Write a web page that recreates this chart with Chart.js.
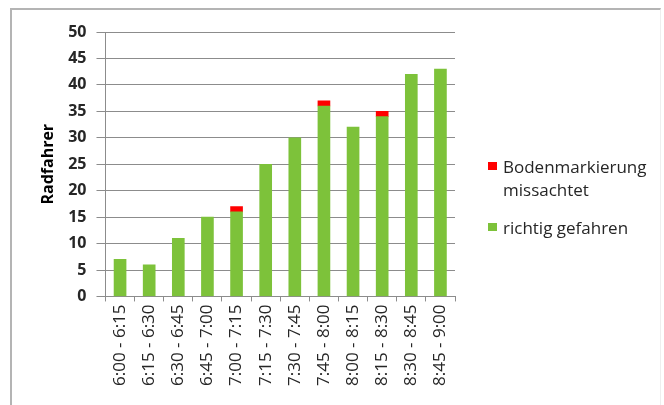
<!DOCTYPE html>
<html>
<head>
<meta charset="utf-8">
<script src="https://cdn.jsdelivr.net/npm/chart.js@4"></script>
<style>
  html, body { margin: 0; padding: 0; background: #fff; }
  #wrap { position: relative; width: 664px; height: 405px; overflow: hidden; }
  #frame { position: absolute; left: 10px; top: 8px; width: 648px; height: 420px;
           border-left: 2px solid #b4b4b4; border-top: 2px solid #b4b4b4; border-right: 1px solid #eee; }
  canvas { position: absolute; left: 0; top: 0; }
  #legend { position: absolute; left: 488px; top: 155px; font-family: "Open Sans", sans-serif;
            font-size: 17px; color: #262626; line-height: 23px; }
  .item { position: relative; padding-left: 15px; }
  .box { position: absolute; left: 0; top: 7px; width: 9px; height: 8px; }
</style>
</head>
<body>
<div id="wrap">
  <div id="frame"></div>
  <canvas id="chart" width="664" height="405"></canvas>
  <div id="legend"></div>
</div>
<script>
  const zeitraeume = ["6:00 - 6:15", "6:15 - 6:30", "6:30 - 6:45", "6:45 - 7:00", "7:00 - 7:15", "7:15 - 7:30",
    "7:30 - 7:45", "7:45 - 8:00", "8:00 - 8:15", "8:15 - 8:30", "8:30 - 8:45", "8:45 - 9:00"];
  const richtigGefahren = [7, 6, 11, 15, 16, 25, 30, 36, 32, 34, 42, 43];
  const missachtet = [null, null, null, null, 1, null, null, 1, null, 1, null, null];

  const gruen = "#7dc23a";
  const rot = "#ff0000";

  Chart.defaults.font.family = "'Open Sans', sans-serif";

  // Legende wie in Excel: rote Serie zuerst
  document.getElementById("legend").innerHTML =
    '<div class="item"><span class="box" style="background:' + rot + '"></span>Bodenmarkierung<br>missachtet</div>' +
    '<div class="item" style="margin-top:15px"><span class="box" style="background:' + gruen + '"></span>richtig gefahren</div>';

  const ctx = document.getElementById("chart").getContext("2d");
  new Chart(ctx, {
    type: "bar",
    data: {
      labels: zeitraeume,
      datasets: [
        { label: "richtig gefahren", data: richtigGefahren, backgroundColor: gruen, barThickness: 12 },
        { label: "Bodenmarkierung missachtet", data: missachtet, backgroundColor: rot, barThickness: 12 },
      ],
    },
    options: {
      responsive: false,
      animation: false,
      layout: { padding: { left: 35, top: 32, right: 209, bottom: 16 } },
      plugins: { legend: { display: false }, tooltip: { enabled: false } },
      scales: {
        x: {
          stacked: true,
          grid: { drawOnChartArea: false, color: "#8c8c8c", tickLength: 5 },
          border: { color: "#8c8c8c" },
          ticks: { minRotation: 90, maxRotation: 90, autoSkip: false, color: "#262626", padding: 3,
                   font: { size: 17 } },
        },
        y: {
          stacked: true,
          min: 0,
          max: 50,
          ticks: { stepSize: 5, color: "#262626", padding: 10, font: { size: 16, weight: "bold" } },
          grid: { color: "#8c8c8c", tickLength: 9 },
          border: { color: "#8c8c8c" },
          title: { display: true, text: "Radfahrer", color: "#000", font: { size: 16, weight: "bold" },
                   padding: { top: 4, bottom: 0 } },
        },
      },
    },
  });
</script>
</body>
</html>
